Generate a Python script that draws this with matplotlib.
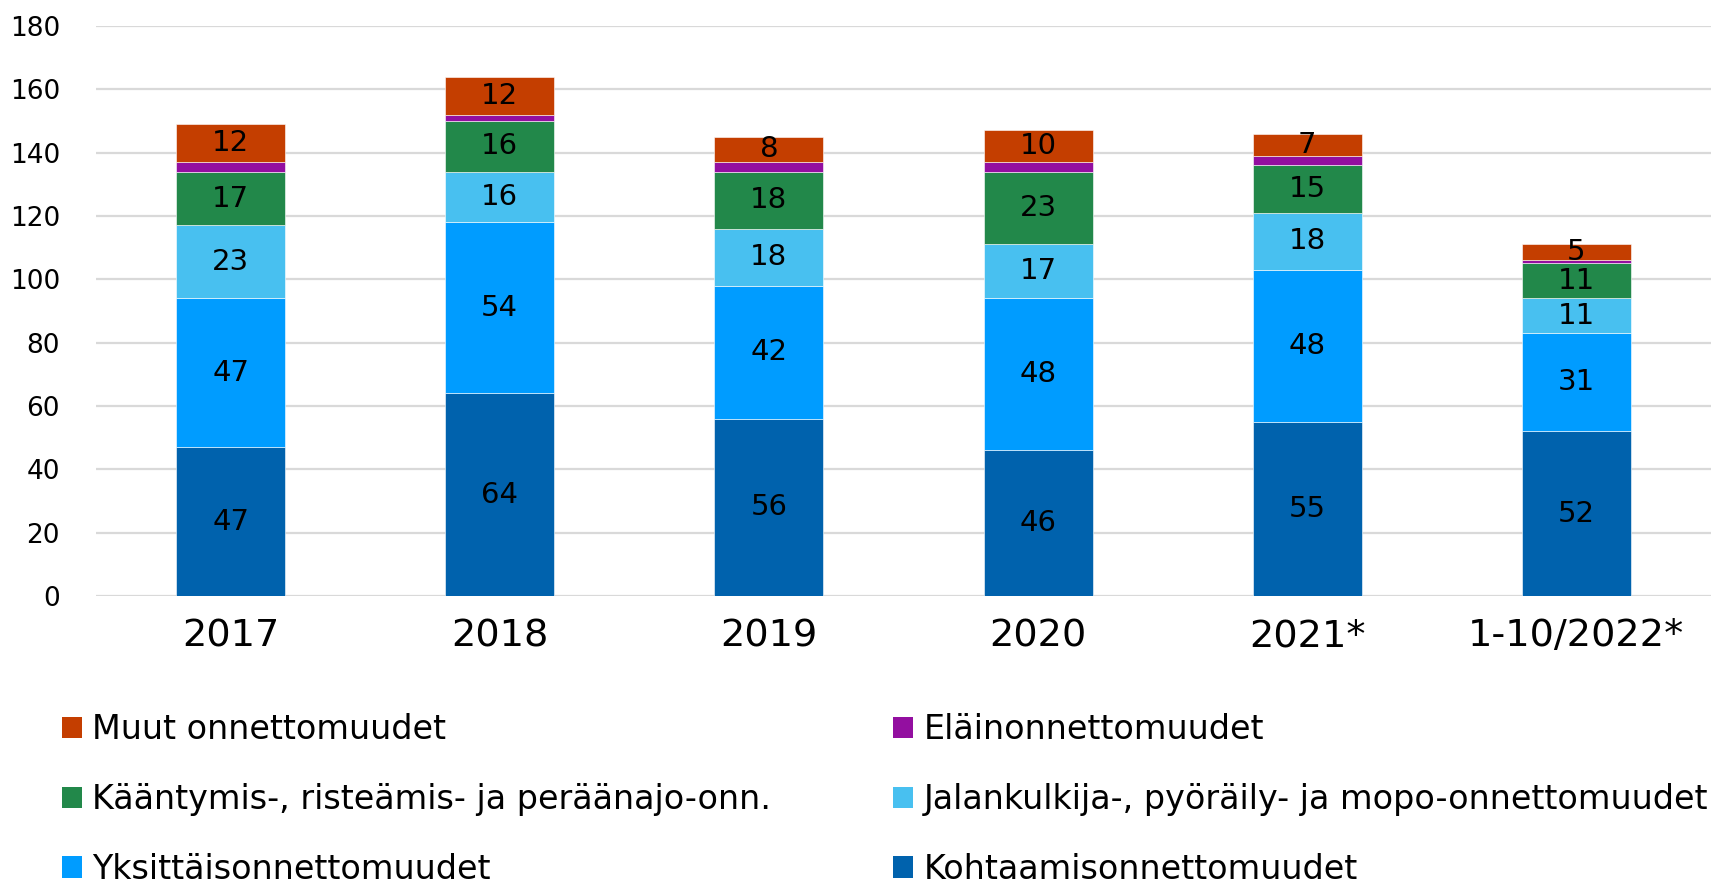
import numpy as np
import matplotlib
matplotlib.use("Agg")
import matplotlib.pyplot as plt
from matplotlib.patches import Patch

# Tieliikenneonnettomuudet tyypeittäin
vuodet = ["2017", "2018", "2019", "2020", "2021*", "1-10/2022*"]

sarjat = [
    "Kohtaamisonnettomuudet",
    "Yksittäisonnettomuudet",
    "Jalankulkija-, pyöräily- ja mopo-onnettomuudet",
    "Kääntymis-, risteämis- ja peräänajo-onn.",
    "Eläinonnettomuudet",
    "Muut onnettomuudet",
]

kohtaamis = [47, 64, 56, 46, 55, 52]
yksittais = [47, 54, 42, 48, 48, 31]
jalankulku = [23, 16, 18, 17, 18, 11]
kaantymis = [17, 16, 18, 23, 15, 11]
elain = [3, 2, 3, 3, 3, 1]
muut = [12, 12, 8, 10, 7, 5]

arvot = [kohtaamis, yksittais, jalankulku, kaantymis, elain, muut]
varit = ["#0062AD", "#009CFF", "#48C0F0", "#22884A", "#930FA0", "#C43E00"]
nayta_arvo = [True, True, True, True, False, True]

W, H = 1711, 885
fig = plt.figure(figsize=(W / 100, H / 100), dpi=100)
ax = fig.add_axes([96 / W, 1 - 596 / H, 1 - 96 / W, (596 - 26) / H])

x = np.arange(len(vuodet))
pohja = np.zeros(len(vuodet))
for nimi, data, vari, naytetaan in zip(sarjat, arvot, varit, nayta_arvo):
    data = np.array(data, dtype=float)
    ax.bar(x, data, bottom=pohja, width=0.405, color=vari,
           edgecolor="white", linewidth=0.4, label=nimi, zorder=3)
    if naytetaan:
        for xi, b, v in zip(x, pohja, data):
            ax.text(xi, b + v / 2, f"{int(v)}", ha="center", va="center",
                    fontsize=21, color="black", zorder=4)
    pohja += data

ax.set_xlim(-0.5, len(vuodet) - 0.5)
ax.set_ylim(0, 180)
ax.set_yticks(range(0, 181, 20))
ax.set_xticks(x)
ax.set_xticklabels(vuodet, fontsize=27.5)
ax.tick_params(axis="y", labelsize=19, length=0, pad=26)
ax.tick_params(axis="x", length=0, pad=16)
ax.grid(axis="y", color="#D9D9D9", linewidth=1.6, zorder=0)
for s in ax.spines.values():
    s.set_visible(False)

# legenda kahdessa sarakkeessa
kahvat = {n: Patch(facecolor=c) for n, c in zip(sarjat, varit)}
vasen = ["Muut onnettomuudet", "Kääntymis-, risteämis- ja peräänajo-onn.",
         "Yksittäisonnettomuudet"]
oikea = ["Eläinonnettomuudet", "Jalankulkija-, pyöräily- ja mopo-onnettomuudet",
         "Kohtaamisonnettomuudet"]
for nimet, xpos in [(vasen, 49 / W), (oikea, 880 / W)]:
    fig.legend([kahvat[n] for n in nimet], nimet, loc="upper left",
               bbox_to_anchor=(xpos, 1 - 700 / H), frameon=False,
               fontsize=24, handlelength=0.6, handleheight=0.6,
               handletextpad=0.3, labelspacing=1.1, borderaxespad=0)

fig.savefig("out.png", dpi=100)
